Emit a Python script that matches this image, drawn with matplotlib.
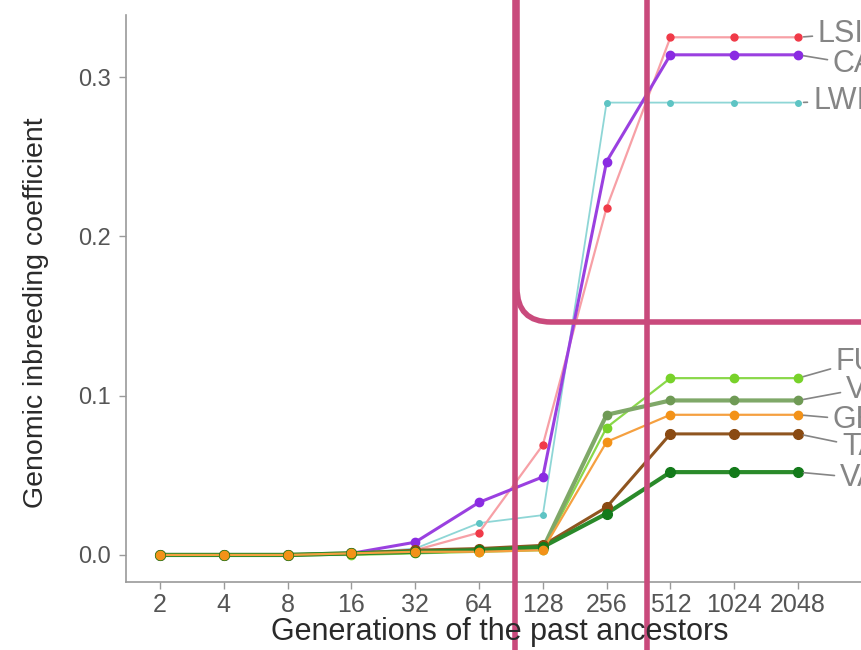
import matplotlib
matplotlib.use("Agg")
import matplotlib.pyplot as plt
from matplotlib.path import Path
from matplotlib.patches import PathPatch
from matplotlib.lines import Line2D
import numpy as np

plt.rcParams['font.family'] = ['Liberation Sans', 'DejaVu Sans']

generations = ["2", "4", "8", "16", "32", "64", "128", "256", "512", "1024", "2048"]

LSI = [0, 0, 0, 0.001, 0.003, 0.014, 0.069, 0.218, 0.325, 0.325, 0.325]
CA  = [0, 0, 0, 0.001, 0.008, 0.033, 0.049, 0.247, 0.314, 0.314, 0.314]
LWI = [0, 0, 0, 0.001, 0.004, 0.020, 0.025, 0.284, 0.284, 0.284, 0.284]
FU  = [0, 0, 0, 0.000, 0.001, 0.002, 0.003, 0.080, 0.111, 0.111, 0.111]
V   = [0, 0, 0, 0.001, 0.002, 0.003, 0.004, 0.088, 0.097, 0.097, 0.097]
GE  = [0, 0, 0, 0.001, 0.002, 0.002, 0.003, 0.071, 0.088, 0.088, 0.088]
TA  = [0, 0, 0, 0.001, 0.003, 0.004, 0.006, 0.030, 0.076, 0.076, 0.076]
VA  = [0, 0, 0, 0.001, 0.002, 0.003, 0.005, 0.026, 0.052, 0.052, 0.052]

series_names = ["LSI", "CA", "LWI", "FU", "V", "GE", "TA", "VA"]
series_vals = [LSI, CA, LWI, FU, V, GE, TA, VA]
colors = ["#f03a48", "#8a2be2", "#5ec4c4", "#78d22a", "#6f9a55", "#f39218", "#8a4a12", "#137a1a"]
line_colors = ["#f7a0a6", "#9a40e0", "#8ed6d6", "#8ad84a", "#7fa868", "#f5a040", "#8f5520", "#2a8a2a"]
lws = [1.6, 2.2, 1.3, 1.6, 3.0, 1.6, 2.2, 3.0]
mss = [5, 6, 4, 6, 6, 6, 7, 7]

W, H = 861, 650
# label text positions (pixels) for repelled labels
label_px = [(818, 35), (833, 65), (813, 102), (836, 362), (846, 390),
            (833, 420), (842, 447), (840, 478)]

fig = plt.figure(figsize=(W / 100, H / 100), dpi=100)
ax_left, ax_bottom = 126 / W, (H - 582) / H
ax = fig.add_axes([ax_left, ax_bottom, 1.0 - ax_left, (582 - 15) / H])

x = np.arange(1, len(generations) + 1)
draw_order = [2, 0, 1, 3, 4, 6, 7, 5]
for i in draw_order:
    ax.plot(x, series_vals[i], color=line_colors[i], lw=lws[i], zorder=2)
    ax.plot(x, series_vals[i], ls='none', marker='o', ms=mss[i],
            color=colors[i], zorder=3)

xpx = 63.8
ax.set_xlim(1 - 34 / xpx, 11 + (861 - 798) / xpx)
ypx = 1590.0
ax.set_ylim(-27 / ypx, 0.3 + 62 / ypx)

ax.set_xticks(x)
ax.set_xticklabels(generations)
ax.set_yticks([0, 0.1, 0.2, 0.3])
ax.set_yticklabels(["0.0", "0.1", "0.2", "0.3"])
for s in ["top", "right"]:
    ax.spines[s].set_visible(False)
for s in ["left", "bottom"]:
    ax.spines[s].set_color("#9a9a9a")
    ax.spines[s].set_linewidth(1.2)
ax.tick_params(axis='both', colors="#9a9a9a", length=5, width=1.0,
               labelcolor="#555555")
ax.tick_params(axis='x', labelsize=18, pad=3)
ax.tick_params(axis='y', labelsize=17, pad=6)

def px2data(px, py):
    return 11 + (px - 798) / xpx, (555 - py) / ypx

for i, name in enumerate(series_names):
    yv = series_vals[i][-1]
    tx, ty = px2data(*label_px[i])
    ax.annotate(name, xy=(11, yv), xytext=(tx, ty),
                textcoords='data', fontsize=22, color="#858585",
                va='center', ha='left', annotation_clip=False,
                arrowprops=dict(arrowstyle='-', color="#858585", lw=1.2,
                                shrinkA=2, shrinkB=4))

fig.text(500 / W, 1 - 632 / H, "Generations of the past ancestors",
         ha='center', va='center', fontsize=22, color="#2a2a2a")
fig.text(36 / W, 1 - 313 / H, "Genomic inbreeding coefficient",
         ha='center', va='center', rotation=90, fontsize=20.5, color="#2a2a2a")

# highlight overlay (figure pixel coordinates)
mag = "#c94a7c"
def fx(px):
    return px / W
def fy(py):
    return 1 - py / H

fig.add_artist(Line2D([fx(515), fx(515)], [fy(-5), fy(655)], color=mag, lw=4))
fig.add_artist(Line2D([fx(647), fx(647)], [fy(-5), fy(655)], color=mag, lw=4))
r = 34
verts = [(517, -5), (517, 322 - r), (517, 322), (517 + r, 322), (870, 322)]
codes = [Path.MOVETO, Path.LINETO, Path.CURVE3, Path.CURVE3, Path.LINETO]
path = Path([(fx(a), fy(b)) for a, b in verts], codes)
fig.add_artist(PathPatch(path, facecolor='none', edgecolor=mag, lw=4,
                         transform=fig.transFigure))

fig.savefig("out.png", dpi=100)
